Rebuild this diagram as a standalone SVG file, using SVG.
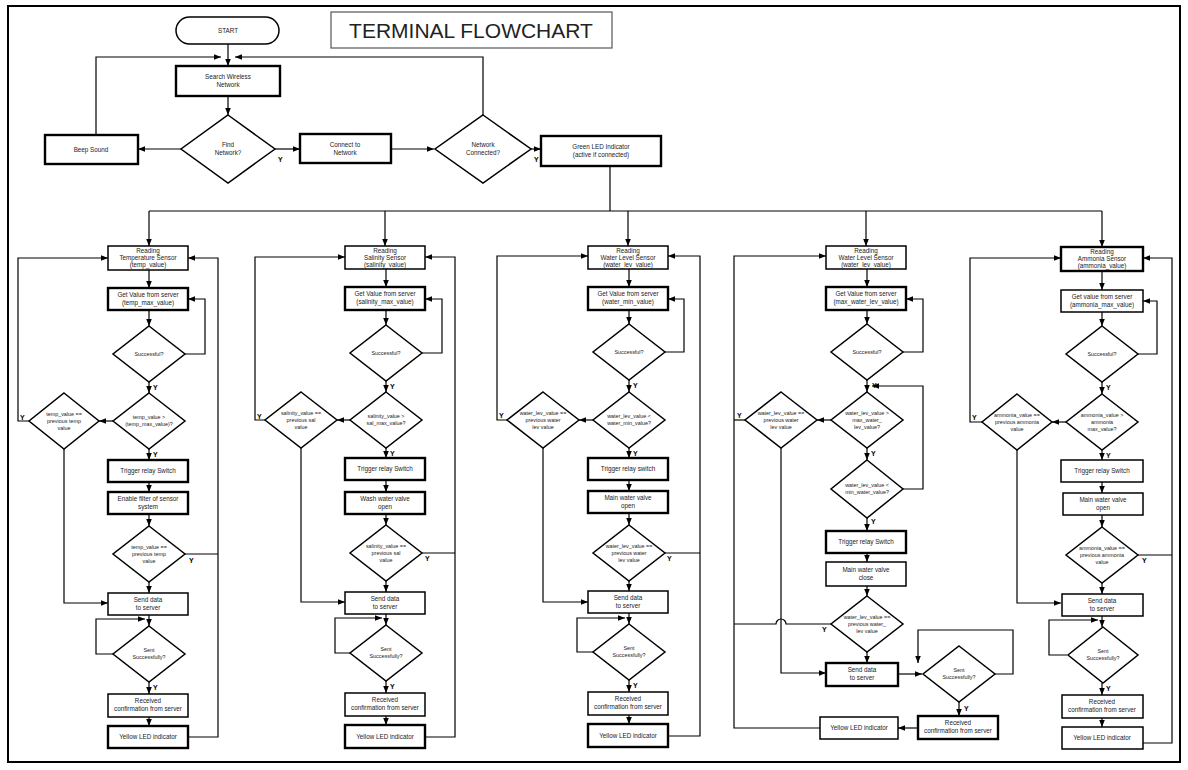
<svg xmlns="http://www.w3.org/2000/svg" width="1188" height="770" viewBox="0 0 1188 770">
<style>
.b{fill:#fff;stroke:#000;stroke-width:1.5}
.k{fill:#fff;stroke:#000;stroke-width:2.4}
.l{fill:none;stroke:#000;stroke-width:1.2}
.t{font-family:"Liberation Sans",Arial,sans-serif;font-size:6.3px;text-anchor:middle;fill:#222}
polygon ~ .t{font-size:5.4px}
.y{font-family:"Liberation Sans",Arial,sans-serif;font-size:7px;font-weight:bold;fill:#000}
</style>
<defs>
<marker id="a" viewBox="0 0 10 10" refX="10" refY="5" markerWidth="7" markerHeight="7" orient="auto" markerUnits="userSpaceOnUse"><path d="M0,1 L10,5 L0,9 z" fill="#000"/></marker>
</defs>
<rect width="1188" height="770" fill="#fff"/>
<rect x="8" y="6" width="1172" height="756" fill="none" stroke="#000" stroke-width="2"/>

<g id="title"><rect x="331" y="12" width="281" height="36" fill="#fff" stroke="#555" stroke-width="1.2"/><text x="471" y="38" font-family="Liberation Sans,Arial,sans-serif" font-size="21" text-anchor="middle" fill="#222">TERMINAL FLOWCHART</text></g>

<g id="connectors">
<path class="l" marker-end="url(#a)" d="M228,44 V66"/>
<path class="l" marker-end="url(#a)" d="M96,135 V57 H221"/>
<path class="l" marker-end="url(#a)" d="M483,115 V57 H235"/>
<path class="l" marker-end="url(#a)" d="M228,96 V115"/>
<path class="l" marker-end="url(#a)" d="M181,149 H138"/>
<path class="l" marker-end="url(#a)" d="M275,149 H300"/>
<path class="l" marker-end="url(#a)" d="M391,149 H434"/>
<path class="l" marker-end="url(#a)" d="M531,149 H541"/>
<path class="l" d="M610,166 V211 M149,211 H1102"/>
<path class="l" marker-end="url(#a)" d="M149,211 V246"/>
<path class="l" marker-end="url(#a)" d="M385,211 V246"/>
<path class="l" marker-end="url(#a)" d="M628,211 V246"/>
<path class="l" marker-end="url(#a)" d="M866,211 V246"/>
<path class="l" marker-end="url(#a)" d="M1102,211 V247"/>

<!-- col1 -->
<path class="l" marker-end="url(#a)" d="M149,270 V288"/>
<path class="l" marker-end="url(#a)" d="M149,310 V326"/>
<path class="l" marker-end="url(#a)" d="M185,354 H205 V299 H188"/>
<path class="l" marker-end="url(#a)" d="M149,382 V393"/>
<path class="l" marker-end="url(#a)" d="M113,421 H99"/>
<path class="l" marker-end="url(#a)" d="M29,421 H18 V258 H108"/>
<path class="l" marker-end="url(#a)" d="M64,449 V603 H108"/>
<path class="l" marker-end="url(#a)" d="M149,449 V460"/>
<path class="l" marker-end="url(#a)" d="M149,482 V492"/>
<path class="l" marker-end="url(#a)" d="M149,514 V526"/>
<path class="l" d="M185,554 H218"/>
<path class="l" marker-end="url(#a)" d="M149,582 V593"/>
<path class="l" marker-end="url(#a)" d="M149,615 V626"/>
<path class="l" marker-end="url(#a)" d="M113,654 H96 V619 H145"/>
<path class="l" marker-end="url(#a)" d="M149,682 V694"/>
<path class="l" marker-end="url(#a)" d="M149,717 V726"/>
<path class="l" marker-end="url(#a)" d="M188,737 H218 V258 H188"/>

<!-- col2 -->
<path class="l" marker-end="url(#a)" d="M386,269 V287"/>
<path class="l" marker-end="url(#a)" d="M386,310 V325"/>
<path class="l" marker-end="url(#a)" d="M422,353 H442 V299 H425"/>
<path class="l" marker-end="url(#a)" d="M386,381 V392"/>
<path class="l" marker-end="url(#a)" d="M350,420 H337"/>
<path class="l" marker-end="url(#a)" d="M265,420 H255 V257 H345"/>
<path class="l" marker-end="url(#a)" d="M301,448 V602 H345"/>
<path class="l" marker-end="url(#a)" d="M386,448 V458"/>
<path class="l" marker-end="url(#a)" d="M386,480 V492"/>
<path class="l" marker-end="url(#a)" d="M386,514 V525"/>
<path class="l" d="M422,553 H455"/>
<path class="l" marker-end="url(#a)" d="M386,581 V592"/>
<path class="l" marker-end="url(#a)" d="M386,614 V625"/>
<path class="l" marker-end="url(#a)" d="M350,653 H335 V618 H382"/>
<path class="l" marker-end="url(#a)" d="M386,681 V693"/>
<path class="l" marker-end="url(#a)" d="M386,716 V725"/>
<path class="l" marker-end="url(#a)" d="M425,737 H455 V257 H425"/>

<!-- col3 -->
<path class="l" marker-end="url(#a)" d="M629,269 V287"/>
<path class="l" marker-end="url(#a)" d="M629,310 V324"/>
<path class="l" marker-end="url(#a)" d="M665,352 H684 V299 H668"/>
<path class="l" marker-end="url(#a)" d="M629,380 V392"/>
<path class="l" marker-end="url(#a)" d="M593,420 H579"/>
<path class="l" marker-end="url(#a)" d="M507,420 H497 V256 H588"/>
<path class="l" marker-end="url(#a)" d="M543,448 V602 H588"/>
<path class="l" marker-end="url(#a)" d="M629,448 V458"/>
<path class="l" marker-end="url(#a)" d="M629,480 V491"/>
<path class="l" marker-end="url(#a)" d="M629,513 V525"/>
<path class="l" d="M665,553 H700"/>
<path class="l" marker-end="url(#a)" d="M629,581 V591"/>
<path class="l" marker-end="url(#a)" d="M629,613 V624"/>
<path class="l" marker-end="url(#a)" d="M593,652 H577 V618 H625"/>
<path class="l" marker-end="url(#a)" d="M629,680 V692"/>
<path class="l" marker-end="url(#a)" d="M629,715 V724"/>
<path class="l" marker-end="url(#a)" d="M668,736 H700 V256 H668"/>

<!-- col4 -->
<path class="l" marker-end="url(#a)" d="M867,269 V287"/>
<path class="l" marker-end="url(#a)" d="M867,310 V324"/>
<path class="l" marker-end="url(#a)" d="M903,352 H923 V299 H906"/>
<path class="l" marker-end="url(#a)" d="M867,380 V392"/>
<path class="l" marker-end="url(#a)" d="M903,489 H923 V386 H872"/>
<path class="l" marker-end="url(#a)" d="M831,420 H817"/>
<path class="l" marker-end="url(#a)" d="M820,728 H734 V256 H826"/>
<path class="l" d="M745,420 H734"/>
<path class="l" marker-end="url(#a)" d="M781,448 V673 H826"/>
<path class="l" marker-end="url(#a)" d="M867,448 V460"/>
<path class="l" marker-end="url(#a)" d="M867,518 V531"/>
<path class="l" marker-end="url(#a)" d="M867,553 V562"/>
<path class="l" marker-end="url(#a)" d="M867,586 V596"/>
<path class="l" d="M831,624 H786 A5,5 0 0 0 776,624 H734" stroke="#666"/>
<path class="l" marker-end="url(#a)" d="M867,652 V663"/>
<path class="l" marker-end="url(#a)" d="M898,674 H922"/>
<path class="l" marker-end="url(#a)" d="M995,674 H1013 V630 H918 V663"/>
<path class="l" marker-end="url(#a)" d="M959,702 V716"/>
<path class="l" marker-end="url(#a)" d="M918,728 H898"/>

<!-- col5 -->
<path class="l" marker-end="url(#a)" d="M1102,271 V290"/>
<path class="l" marker-end="url(#a)" d="M1102,312 V326"/>
<path class="l" marker-end="url(#a)" d="M1138,354 H1157 V301 H1143"/>
<path class="l" marker-end="url(#a)" d="M1102,382 V394"/>
<path class="l" marker-end="url(#a)" d="M1066,422 H1052"/>
<path class="l" marker-end="url(#a)" d="M982,422 H970 V258 H1061"/>
<path class="l" marker-end="url(#a)" d="M1017,450 V603 H1061"/>
<path class="l" marker-end="url(#a)" d="M1102,450 V460"/>
<path class="l" marker-end="url(#a)" d="M1102,482 V493"/>
<path class="l" marker-end="url(#a)" d="M1102,515 V527"/>
<path class="l" d="M1138,555 H1172"/>
<path class="l" marker-end="url(#a)" d="M1102,583 V594"/>
<path class="l" marker-end="url(#a)" d="M1102,616 V627"/>
<path class="l" marker-end="url(#a)" d="M1067,655 H1049 V620 H1098"/>
<path class="l" marker-end="url(#a)" d="M1102,683 V695"/>
<path class="l" marker-end="url(#a)" d="M1102,718 V727"/>
<path class="l" marker-end="url(#a)" d="M1143,743 H1172 V258 H1143"/>
</g>

<g id="labels">
<text class="y" x="278" y="162">Y</text>
<text class="y" x="534" y="162">Y</text>
<text class="y" x="153" y="390">Y</text><text class="y" x="153" y="457">Y</text><text class="y" x="20" y="420">Y</text><text class="y" x="189" y="563">Y</text><text class="y" x="153" y="690">Y</text>
<text class="y" x="390" y="389">Y</text><text class="y" x="390" y="456">Y</text><text class="y" x="257" y="419">Y</text><text class="y" x="425" y="561">Y</text><text class="y" x="390" y="689">Y</text>
<text class="y" x="633" y="388">Y</text><text class="y" x="633" y="456">Y</text><text class="y" x="499" y="418">Y</text><text class="y" x="667" y="561">Y</text><text class="y" x="633" y="688">Y</text>
<text class="y" x="872" y="388">Y</text><text class="y" x="871" y="456">Y</text><text class="y" x="737" y="418">Y</text><text class="y" x="871" y="524">Y</text><text class="y" x="822" y="632">Y</text><text class="y" x="964" y="711">Y</text>
<text class="y" x="1106" y="390">Y</text><text class="y" x="1106" y="458">Y</text><text class="y" x="972" y="420">Y</text><text class="y" x="1142" y="563">Y</text><text class="y" x="1106" y="691">Y</text>
</g>

<g id="start"><rect class="b" x="176" y="17" width="103" height="27" rx="13.5"/><text class="t" x="228" y="33">START</text></g>
<g id="search"><rect class="k" x="176" y="66" width="104" height="30"/><text class="t" x="228" y="79">Search Wireless</text><text class="t" x="228" y="87">Network</text></g>
<g id="find"><polygon class="b" points="228,115 275,149 228,183 181,149"/><text class="t" x="228" y="147" style="font-size:6.3px">Find</text><text class="t" x="228" y="155" style="font-size:6.3px">Network?</text></g>
<g id="beep"><rect class="k" x="45" y="135" width="93" height="29"/><text class="t" x="91" y="152">Beep Sound</text></g>
<g id="connect"><rect class="k" x="300" y="134" width="91" height="29"/><text class="t" x="345" y="147">Connect to</text><text class="t" x="345" y="155">Network</text></g>
<g id="netcon"><polygon class="b" points="483,115 531,149 483,183 435,149"/><text class="t" x="483" y="147" style="font-size:6.3px">Network</text><text class="t" x="483" y="155" style="font-size:6.3px">Connected?</text></g>
<g id="green"><rect class="k" x="541" y="136" width="120" height="30"/><text class="t" x="601" y="149">Green LED Indicator</text><text class="t" x="601" y="157">(active if connected)</text></g>

<!-- column 1 -->
<g id="c1r"><rect class="b" x="108" y="246" width="80" height="24"/><text class="t" x="148" y="253">Reading</text><text class="t" x="148" y="260">Temperature Sensor</text><text class="t" x="148" y="267">(temp_value)</text></g>
<g id="c1g"><rect class="k" x="108" y="288" width="80" height="22"/><text class="t" x="148" y="297">Get Value from server</text><text class="t" x="148" y="305">(temp_max_value)</text></g>
<g id="c1s"><polygon class="b" points="149,326 185,354 149,382 113,354"/><text class="t" x="149" y="356">Successful?</text></g>
<g id="c1d"><polygon class="b" points="149,393 185,421 149,449 113,421"/><text class="t" x="149" y="419">temp_value &gt;</text><text class="t" x="149" y="426">(temp_max_value)?</text></g>
<g id="c1p"><polygon class="b" points="64,393 99,421 64,449 29,421"/><text class="t" x="64" y="416">temp_value ==</text><text class="t" x="64" y="423">previous temp</text><text class="t" x="64" y="430">value</text></g>
<g id="c1t"><rect class="k" x="108" y="460" width="80" height="22"/><text class="t" x="148" y="473">Trigger relay Switch</text></g>
<g id="c1e"><rect class="k" x="108" y="492" width="80" height="22"/><text class="t" x="148" y="501">Enable filter of sensor</text><text class="t" x="148" y="509">system</text></g>
<g id="c1q"><polygon class="b" points="149,526 185,554 149,582 113,554"/><text class="t" x="149" y="549">temp_value ==</text><text class="t" x="149" y="556">previous temp</text><text class="t" x="149" y="563">value</text></g>
<g id="c1sd"><rect class="b" x="108" y="593" width="80" height="22"/><text class="t" x="148" y="602">Send data</text><text class="t" x="148" y="610">to server</text></g>
<g id="c1ss"><polygon class="b" points="149,626 185,654 149,682 113,654"/><text class="t" x="149" y="652">Sent</text><text class="t" x="149" y="659">Successfully?</text></g>
<g id="c1rc"><rect class="b" x="108" y="694" width="80" height="23"/><text class="t" x="148" y="703">Received</text><text class="t" x="148" y="711">confirmation from server</text></g>
<g id="c1y"><rect class="k" x="108" y="726" width="80" height="22"/><text class="t" x="148" y="739">Yellow LED indicator</text></g>

<!-- column 2 -->
<g id="c2r"><rect class="b" x="345" y="246" width="80" height="23"/><text class="t" x="385" y="253">Reading</text><text class="t" x="385" y="260">Salinity Sensor</text><text class="t" x="385" y="267">(salinity_value)</text></g>
<g id="c2g"><rect class="k" x="345" y="287" width="80" height="23"/><text class="t" x="385" y="296">Get Value from server</text><text class="t" x="385" y="304">(salinity_max_value)</text></g>
<g id="c2s"><polygon class="b" points="386,325 422,353 386,381 350,353"/><text class="t" x="386" y="355">Successful?</text></g>
<g id="c2d"><polygon class="b" points="386,392 422,420 386,448 350,420"/><text class="t" x="386" y="418">salinity_value &gt;</text><text class="t" x="386" y="425">sal_max_value?</text></g>
<g id="c2p"><polygon class="b" points="301,392 337,420 301,448 265,420"/><text class="t" x="301" y="415">salinity_value ==</text><text class="t" x="301" y="422">previous sal</text><text class="t" x="301" y="429">value</text></g>
<g id="c2t"><rect class="k" x="345" y="458" width="80" height="22"/><text class="t" x="385" y="471">Trigger relay Switch</text></g>
<g id="c2e"><rect class="k" x="345" y="492" width="80" height="22"/><text class="t" x="385" y="501">Wash water valve</text><text class="t" x="385" y="509">open</text></g>
<g id="c2q"><polygon class="b" points="386,525 422,553 386,581 350,553"/><text class="t" x="386" y="548">salinity_value ==</text><text class="t" x="386" y="555">previous sal</text><text class="t" x="386" y="562">value</text></g>
<g id="c2sd"><rect class="b" x="345" y="592" width="80" height="22"/><text class="t" x="385" y="601">Send data</text><text class="t" x="385" y="609">to server</text></g>
<g id="c2ss"><polygon class="b" points="386,625 422,653 386,681 350,653"/><text class="t" x="386" y="651">Sent</text><text class="t" x="386" y="658">Successfully?</text></g>
<g id="c2rc"><rect class="b" x="345" y="693" width="80" height="23"/><text class="t" x="385" y="702">Received</text><text class="t" x="385" y="710">confirmation from server</text></g>
<g id="c2y"><rect class="k" x="345" y="725" width="80" height="23"/><text class="t" x="385" y="739">Yellow LED indicator</text></g>

<!-- column 3 -->
<g id="c3r"><rect class="b" x="588" y="246" width="80" height="23"/><text class="t" x="628" y="253">Reading</text><text class="t" x="628" y="260">Water Level Sensor</text><text class="t" x="628" y="267">(water_lev_value)</text></g>
<g id="c3g"><rect class="k" x="588" y="287" width="80" height="23"/><text class="t" x="628" y="296">Get Value from server</text><text class="t" x="628" y="304">(water_min_value)</text></g>
<g id="c3s"><polygon class="b" points="629,324 665,352 629,380 593,352"/><text class="t" x="629" y="354">Successful?</text></g>
<g id="c3d"><polygon class="b" points="629,392 665,420 629,448 593,420"/><text class="t" x="629" y="418">water_lev_value &lt;</text><text class="t" x="629" y="425">water_min_value?</text></g>
<g id="c3p"><polygon class="b" points="543,392 579,420 543,448 507,420"/><text class="t" x="543" y="415">water_lev_value ==</text><text class="t" x="543" y="422">previous water</text><text class="t" x="543" y="429">lev value</text></g>
<g id="c3t"><rect class="k" x="588" y="458" width="80" height="22"/><text class="t" x="628" y="471">Trigger relay switch</text></g>
<g id="c3e"><rect class="k" x="588" y="491" width="80" height="22"/><text class="t" x="628" y="500">Main water valve</text><text class="t" x="628" y="508">open</text></g>
<g id="c3q"><polygon class="b" points="629,525 665,553 629,581 593,553"/><text class="t" x="629" y="548">water_lev_value ==</text><text class="t" x="629" y="555">previous water</text><text class="t" x="629" y="562">lev value</text></g>
<g id="c3sd"><rect class="b" x="588" y="591" width="80" height="22"/><text class="t" x="628" y="600">Send data</text><text class="t" x="628" y="608">to server</text></g>
<g id="c3ss"><polygon class="b" points="629,624 665,652 629,680 593,652"/><text class="t" x="629" y="650">Sent</text><text class="t" x="629" y="657">Successfully?</text></g>
<g id="c3rc"><rect class="b" x="588" y="692" width="80" height="23"/><text class="t" x="628" y="701">Received</text><text class="t" x="628" y="709">confirmation from server</text></g>
<g id="c3y"><rect class="k" x="588" y="724" width="80" height="23"/><text class="t" x="628" y="738">Yellow LED indicator</text></g>

<!-- column 4 -->
<g id="c4r"><rect class="b" x="826" y="246" width="80" height="23"/><text class="t" x="866" y="253">Reading</text><text class="t" x="866" y="260">Water Level Sensor</text><text class="t" x="866" y="267">(water_lev_value)</text></g>
<g id="c4g"><rect class="k" x="826" y="287" width="80" height="23"/><text class="t" x="866" y="296">Get Value from server</text><text class="t" x="866" y="304">(max_water_lev_value)</text></g>
<g id="c4s"><polygon class="b" points="867,324 903,352 867,380 831,352"/><text class="t" x="867" y="354">Successful?</text></g>
<g id="c4d"><polygon class="b" points="867,392 903,420 867,448 831,420"/><text class="t" x="867" y="415">water_lev_value &gt;</text><text class="t" x="867" y="422">max_water_</text><text class="t" x="867" y="429">lev_value?</text></g>
<g id="c4p"><polygon class="b" points="781,392 817,420 781,448 745,420"/><text class="t" x="781" y="415">water_lev_value ==</text><text class="t" x="781" y="422">previous water</text><text class="t" x="781" y="429">lev value</text></g>
<g id="c4m"><polygon class="b" points="867,460 903,489 867,518 831,489"/><text class="t" x="867" y="487">water_lev_value &lt;</text><text class="t" x="867" y="494">min_water_value?</text></g>
<g id="c4t"><rect class="k" x="826" y="531" width="80" height="22"/><text class="t" x="866" y="544">Trigger relay Switch</text></g>
<g id="c4e"><rect class="b" x="826" y="562" width="80" height="24"/><text class="t" x="866" y="572">Main water valve</text><text class="t" x="866" y="580">close</text></g>
<g id="c4q"><polygon class="b" points="867,596 903,624 867,652 831,624"/><text class="t" x="867" y="619">water_lev_value ==</text><text class="t" x="867" y="626">previous water_</text><text class="t" x="867" y="633">lev value</text></g>
<g id="c4sd"><rect class="k" x="826" y="663" width="72" height="23"/><text class="t" x="862" y="672">Send data</text><text class="t" x="862" y="680">to server</text></g>
<g id="c4ss"><polygon class="b" points="959,646 995,674 959,702 923,674"/><text class="t" x="959" y="672">Sent</text><text class="t" x="959" y="679">Successfully?</text></g>
<g id="c4rc"><rect class="k" x="918" y="716" width="80" height="23"/><text class="t" x="958" y="725">Received</text><text class="t" x="958" y="733">confirmation from server</text></g>
<g id="c4y"><rect class="b" x="820" y="717" width="78" height="22"/><text class="t" x="859" y="730">Yellow LED indicator</text></g>

<!-- column 5 -->
<g id="c5r"><rect class="k" x="1061" y="247" width="82" height="24"/><text class="t" x="1102" y="254">Reading</text><text class="t" x="1102" y="261">Ammonia Sensor</text><text class="t" x="1102" y="268">(ammonia_value)</text></g>
<g id="c5g"><rect class="b" x="1061" y="290" width="82" height="22"/><text class="t" x="1102" y="299">Get value from server</text><text class="t" x="1102" y="307">(ammonia_max_value)</text></g>
<g id="c5s"><polygon class="b" points="1102,326 1138,354 1102,382 1066,354"/><text class="t" x="1102" y="356">Successful?</text></g>
<g id="c5d"><polygon class="b" points="1102,394 1138,422 1102,450 1066,422"/><text class="t" x="1102" y="417">ammonia_value &gt;</text><text class="t" x="1102" y="424">ammonia</text><text class="t" x="1102" y="431">max_value?</text></g>
<g id="c5p"><polygon class="b" points="1017,394 1052,422 1017,450 982,422"/><text class="t" x="1017" y="417">ammonia_value ==</text><text class="t" x="1017" y="424">previous ammonia</text><text class="t" x="1017" y="431">value</text></g>
<g id="c5t"><rect class="b" x="1061" y="460" width="82" height="22"/><text class="t" x="1102" y="473">Trigger relay Switch</text></g>
<g id="c5e"><rect class="b" x="1063" y="493" width="80" height="22"/><text class="t" x="1103" y="502">Main water valve</text><text class="t" x="1103" y="510">open</text></g>
<g id="c5q"><polygon class="b" points="1102,527 1138,555 1102,583 1066,555"/><text class="t" x="1102" y="550">ammonia_value ==</text><text class="t" x="1102" y="557">previous ammonia</text><text class="t" x="1102" y="564">value</text></g>
<g id="c5sd"><rect class="b" x="1062" y="594" width="81" height="22"/><text class="t" x="1102" y="603">Send data</text><text class="t" x="1102" y="611">to server</text></g>
<g id="c5ss"><polygon class="b" points="1103,627 1138,655 1103,683 1068,655"/><text class="t" x="1103" y="653">Sent</text><text class="t" x="1103" y="660">Successfully?</text></g>
<g id="c5rc"><rect class="b" x="1062" y="695" width="81" height="23"/><text class="t" x="1102" y="704">Received</text><text class="t" x="1102" y="712">confirmation from server</text></g>
<g id="c5y"><rect class="b" x="1062" y="727" width="81" height="22"/><text class="t" x="1102" y="740">Yellow LED indicator</text></g>
</svg>
